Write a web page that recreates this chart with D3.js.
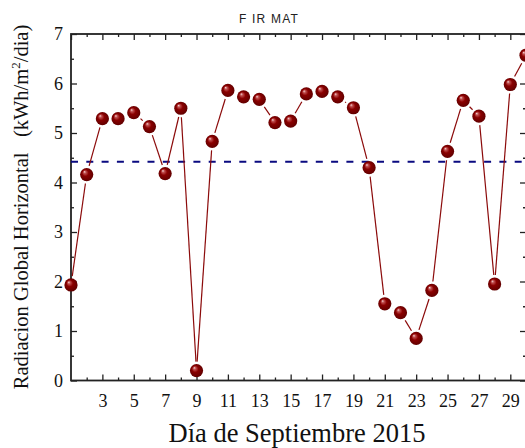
<!DOCTYPE html>
<html>
<head>
<meta charset="utf-8">
<script src="https://cdn.jsdelivr.net/npm/d3@7"></script>
<style>
  body { margin: 0; background: #fff; }
  svg { display: block; }
</style>
</head>
<body>
<div id="chart"></div>
<script>
let days = d3.range(1, 31)
let radiacion = [1.93, 4.16, 5.29, 5.29, 5.41, 5.13, 4.18, 5.50, 0.20, 4.83,
                 5.86, 5.73, 5.68, 5.21, 5.24, 5.79, 5.84, 5.73, 5.51, 4.30,
                 1.55, 1.37, 0.85, 1.82, 4.63, 5.66, 5.34, 1.95, 5.98, 6.57]
let promedio = 4.42
let xTickLabels = [3, 5, 7, 9, 11, 13, 15, 17, 19, 21, 23, 25, 27, 29]
let yTickLabels = [0, 1, 2, 3, 4, 5, 6, 7]

let width = 525, height = 448
let plotLeft = 71, plotRight = 526, plotTop = 34, plotBottom = 380.5

let serif = "'Liberation Serif', 'Times New Roman', serif"

let svg = d3.select('#chart').append('svg')
  .attr('width', width)
  .attr('height', height)

let x = d3.scaleLinear().domain([1, 30]).range([plotLeft, plotRight])
let y = d3.scaleLinear().domain([0, 7]).range([plotBottom, plotTop])

let defs = svg.append('defs')
let grad = defs.append('radialGradient')
  .attr('id', 'ball')
  .attr('cx', '50%').attr('cy', '50%').attr('r', '55%')
  .attr('fx', '32%').attr('fy', '28%')
grad.append('stop').attr('offset', '0%').attr('stop-color', '#f4d8d8')
grad.append('stop').attr('offset', '18%').attr('stop-color', '#c05050')
grad.append('stop').attr('offset', '45%').attr('stop-color', '#8a0000')
grad.append('stop').attr('offset', '100%').attr('stop-color', '#5c0000')

defs.append('clipPath').attr('id', 'plot')
  .append('rect')
    .attr('x', plotLeft - 10).attr('y', plotTop - 10)
    .attr('width', plotRight - plotLeft + 20).attr('height', plotBottom - plotTop + 20)

let minorX = days.filter(d => d % 2 == 0)
let majorX = days.filter(d => d % 2 == 1)
let minorY = d3.range(0.5, 7, 1)

let tickStyle = g => {
  g.select('.domain').remove()
  g.selectAll('.tick line').attr('stroke', '#222').attr('stroke-width', 1.3)
}

// bottom axis
svg.append('g')
  .attr('transform', `translate(0,${plotBottom})`)
  .call(d3.axisBottom(x).tickValues(xTickLabels).tickSize(-6).tickPadding(14).tickFormat(d3.format('d')))
  .call(tickStyle)
  .call(g => g.selectAll('.tick text')
    .attr('font-family', serif).attr('font-size', 18).attr('fill', '#111'))
svg.append('g')
  .attr('transform', `translate(0,${plotBottom})`)
  .call(d3.axisBottom(x).tickValues(minorX).tickSize(-3).tickFormat(''))
  .call(tickStyle)

// top axis
svg.append('g')
  .attr('transform', `translate(0,${plotTop})`)
  .call(d3.axisTop(x).tickValues(majorX).tickSize(-6).tickFormat(''))
  .call(tickStyle)
svg.append('g')
  .attr('transform', `translate(0,${plotTop})`)
  .call(d3.axisTop(x).tickValues(minorX).tickSize(-3).tickFormat(''))
  .call(tickStyle)

// left axis
svg.append('g')
  .attr('transform', `translate(${plotLeft},0)`)
  .call(d3.axisLeft(y).tickValues(yTickLabels).tickSize(-6).tickPadding(8).tickFormat(d3.format('d')))
  .call(tickStyle)
  .call(g => g.selectAll('.tick text')
    .attr('font-family', serif).attr('font-size', 18).attr('fill', '#111'))
svg.append('g')
  .attr('transform', `translate(${plotLeft},0)`)
  .call(d3.axisLeft(y).tickValues(minorY).tickSize(-3).tickFormat(''))
  .call(tickStyle)

// right axis
svg.append('g')
  .attr('transform', `translate(${plotRight},0)`)
  .call(d3.axisRight(y).tickValues(yTickLabels).tickSize(-6).tickFormat(''))
  .call(tickStyle)
svg.append('g')
  .attr('transform', `translate(${plotRight},0)`)
  .call(d3.axisRight(y).tickValues(minorY).tickSize(-3).tickFormat(''))
  .call(tickStyle)

// frame
svg.append('rect')
  .attr('x', plotLeft).attr('y', plotTop)
  .attr('width', plotRight - plotLeft).attr('height', plotBottom - plotTop)
  .attr('fill', 'none')
  .attr('stroke', '#222')
  .attr('stroke-width', 1.8)

// mean line
svg.append('line')
  .attr('x1', plotLeft).attr('x2', plotRight)
  .attr('y1', y(promedio)).attr('y2', y(promedio))
  .attr('stroke', '#0a0a80')
  .attr('stroke-width', 2)
  .attr('stroke-dasharray', '7,8.3')

let points = days.map((d, i) => ({ day: d, value: radiacion[i] }))
let gap = 9

let segs = d3.pairs(points).map(([a, b]) => {
  let x1 = x(a.day), y1 = y(a.value), x2 = x(b.day), y2 = y(b.value)
  let len = Math.hypot(x2 - x1, y2 - y1)
  let ux = (x2 - x1) / len, uy = (y2 - y1) / len
  return { x1: x1 + ux * gap, y1: y1 + uy * gap, x2: x2 - ux * gap, y2: y2 - uy * gap, ok: len > 2 * gap }
}).filter(s => s.ok)

let fg = svg.append('g').attr('clip-path', 'url(#plot)')

fg.selectAll('.seg').data(segs)
  .enter().append('line')
    .attr('class', 'seg')
    .attr('x1', s => s.x1).attr('y1', s => s.y1)
    .attr('x2', s => s.x2).attr('y2', s => s.y2)
    .attr('stroke', '#8b0a0a')
    .attr('stroke-width', 1.2)

fg.selectAll('.ball').data(points)
  .enter().append('circle')
    .attr('class', 'ball')
    .attr('cx', p => x(p.day))
    .attr('cy', p => y(p.value))
    .attr('r', 6.6)
    .attr('fill', 'url(#ball)')

// titles
svg.append('text')
  .attr('x', 269).attr('y', 23)
  .attr('text-anchor', 'middle')
  .attr('font-family', 'Arial, "Liberation Sans", sans-serif')
  .attr('font-size', 12)
  .attr('letter-spacing', 1.2)
  .attr('fill', '#222')
  .text('F IR MAT')

svg.append('text')
  .attr('x', 297).attr('y', 442)
  .attr('text-anchor', 'middle')
  .attr('font-family', serif)
  .attr('font-size', 26.5)
  .attr('fill', '#111')
  .text('Día de Septiembre 2015')

let ylab = svg.append('text')
  .attr('transform', 'translate(28,207) rotate(-90)')
  .attr('text-anchor', 'middle')
  .attr('font-family', serif)
  .attr('font-size', 20.5)
  .attr('fill', '#111')
  .style('white-space', 'pre')
ylab.append('tspan').text('Radiacion Global Horizontal   (kWh/m')
ylab.append('tspan').attr('font-size', 13).attr('dy', -8).text('2')
ylab.append('tspan').attr('dy', 8).text('/dia)')
</script>
</body>
</html>
